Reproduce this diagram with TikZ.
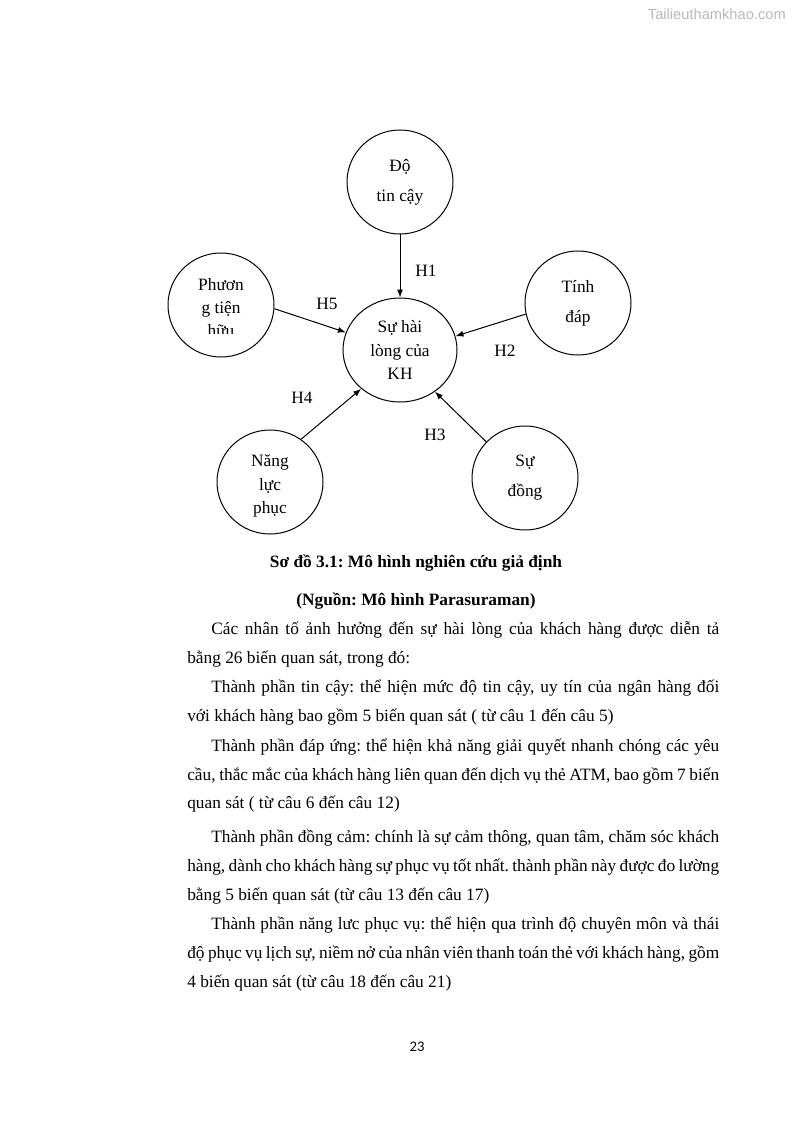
\documentclass[tikz,border=0pt]{standalone}
\usepackage{fontspec}
\setmainfont{Liberation Serif}
\newfontfamily\pagefont{Carlito}
\newfontfamily\wmfont{Liberation Sans}
\usetikzlibrary{arrows.meta,shapes.geometric}
\frenchspacing
\newcommand\jfull[1]{\makebox[399pt][s]{#1}}
\newcommand\jind[1]{\makebox[381pt][s]{#1}}
\begin{document}
\frenchspacing
\begin{tikzpicture}[x=0.75pt,y=-0.75pt,
  bub/.style={draw, ellipse, line width=0.75pt, minimum width=79.5pt, minimum height=78pt, inner sep=0pt, align=center, font=\fontsize{13}{17.5}\selectfont},
  bubtwo/.style={bub, font=\fontsize{13}{22.5}\selectfont},
  btxt/.style={inner sep=0pt, align=center, font=\fontsize{13}{17.5}\selectfont},
  arr/.style={draw, line width=0.75pt, -{Latex[length=6pt,width=4.5pt]}},
  hlab/.style={font=\fontsize{13}{15}\selectfont, inner sep=0pt},
  body/.style={anchor=base west, inner sep=0pt, font=\fontsize{13}{15}\selectfont},
  capt/.style={anchor=base, inner sep=0pt, font=\bfseries\fontsize{13}{15}\selectfont},
]
\useasboundingbox (0,0) rectangle (794,1123);
% watermark
\node[font=\wmfont\fontsize{11}{13}\selectfont, text=gray!55, anchor=east, inner sep=0pt] (wm) at (786,14) {Tailieuthamkhao.com};
% circles
\node[bubtwo] (dtc) at (400,182) {Độ\\tin cậy};
\node[bub, minimum width=85.5pt] (shl) at (400,350) {Sự hài\\lòng của\\KH};
\node[bub] (ptn) at (221,305) {};
\node[btxt] (ptnt) at (221,311) {Phươn\\g tiện\\\strut};
\begin{scope}
  \clip (160,250) rectangle (280,333);
  \node[anchor=base, inner sep=0pt, font=\fontsize{13}{15}\selectfont] (ptn3) at (221,336) {hữu};
\end{scope}
\node[bubtwo] (tdu) at (578,303) {Tính\\đáp};
\node[bub] (nlp) at (270,482) {};
\node[btxt] (nlpt) at (270,486) {Năng\\lực\\phục};
\node[bubtwo] (sdg) at (525,478) {Sự\\đồng};
% arrows
\draw[arr] (dtc.south) -- (shl.north);
\draw[arr] (ptn.-4) -- (shl.162);
\draw[arr] (tdu.-168) -- (shl.14);
\draw[arr] (nlp.54) -- (shl.225);
\draw[arr] (sdg.137) -- (shl.-50);
% labels
\node[hlab] (h1) at (426,271) {H1};
\node[hlab] (h5) at (327,304) {H5};
\node[hlab] (h2) at (505,351) {H2};
\node[hlab] (h4) at (302,398) {H4};
\node[hlab] (h3) at (435,435) {H3};
% captions
\node[capt] (cap1) at (416,567) {Sơ đồ 3.1: Mô hình nghiên cứu giả định};
\node[capt] (cap2) at (416,605) {(Nguồn: Mô hình Parasuraman)};
% body
\node[body] (l1) at (211,634) {\jind{Các nhân tố ảnh hưởng đến sự hài lòng của khách hàng được diễn tả}};
\node[body] (l2) at (187,663) {bằng 26 biến quan sát, trong đó:};
\node[body] (l3) at (211,692) {\jind{Thành phần tin cậy: thể hiện mức độ tin cậy, uy tín của ngân hàng đối}};
\node[body] (l4) at (187,721) {với khách hàng bao gồm 5 biến quan sát ( từ câu 1 đến câu 5)};
\node[body] (l5) at (211,751) {\jind{Thành phần đáp ứng: thể hiện khả năng giải quyết nhanh chóng các yêu}};
\node[body] (l6) at (187,780) {\jfull{cầu, thắc mắc của khách hàng liên quan đến dịch vụ thẻ ATM, bao gồm 7 biến}};
\node[body] (l7) at (187,808) {quan sát ( từ câu 6 đến câu 12)};
\node[body] (l8) at (211,842) {\jind{Thành phần đồng cảm: chính là sự cảm thông, quan tâm, chăm sóc khách}};
\node[body] (l9) at (187,871) {\jfull{hàng, dành cho khách hàng sự phục vụ tốt nhất. thành phần này được đo lường}};
\node[body] (l10) at (187,900) {bằng 5 biến quan sát (từ câu 13 đến câu 17)};
\node[body] (l11) at (211,929) {\jind{Thành phần năng lưc phục vụ: thể hiện qua trình độ chuyên môn và thái}};
\node[body] (l12) at (187,958) {\jfull{độ phục vụ lịch sự, niềm nở của nhân viên thanh toán thẻ với khách hàng, gồm}};
\node[body] (l13) at (187,987) {4 biến quan sát (từ câu 18 đến câu 21)};
% page number
\node[font=\pagefont\fontsize{11}{13}\selectfont, inner sep=0pt] (pg) at (417,1047) {23};
\end{tikzpicture}
\end{document}
